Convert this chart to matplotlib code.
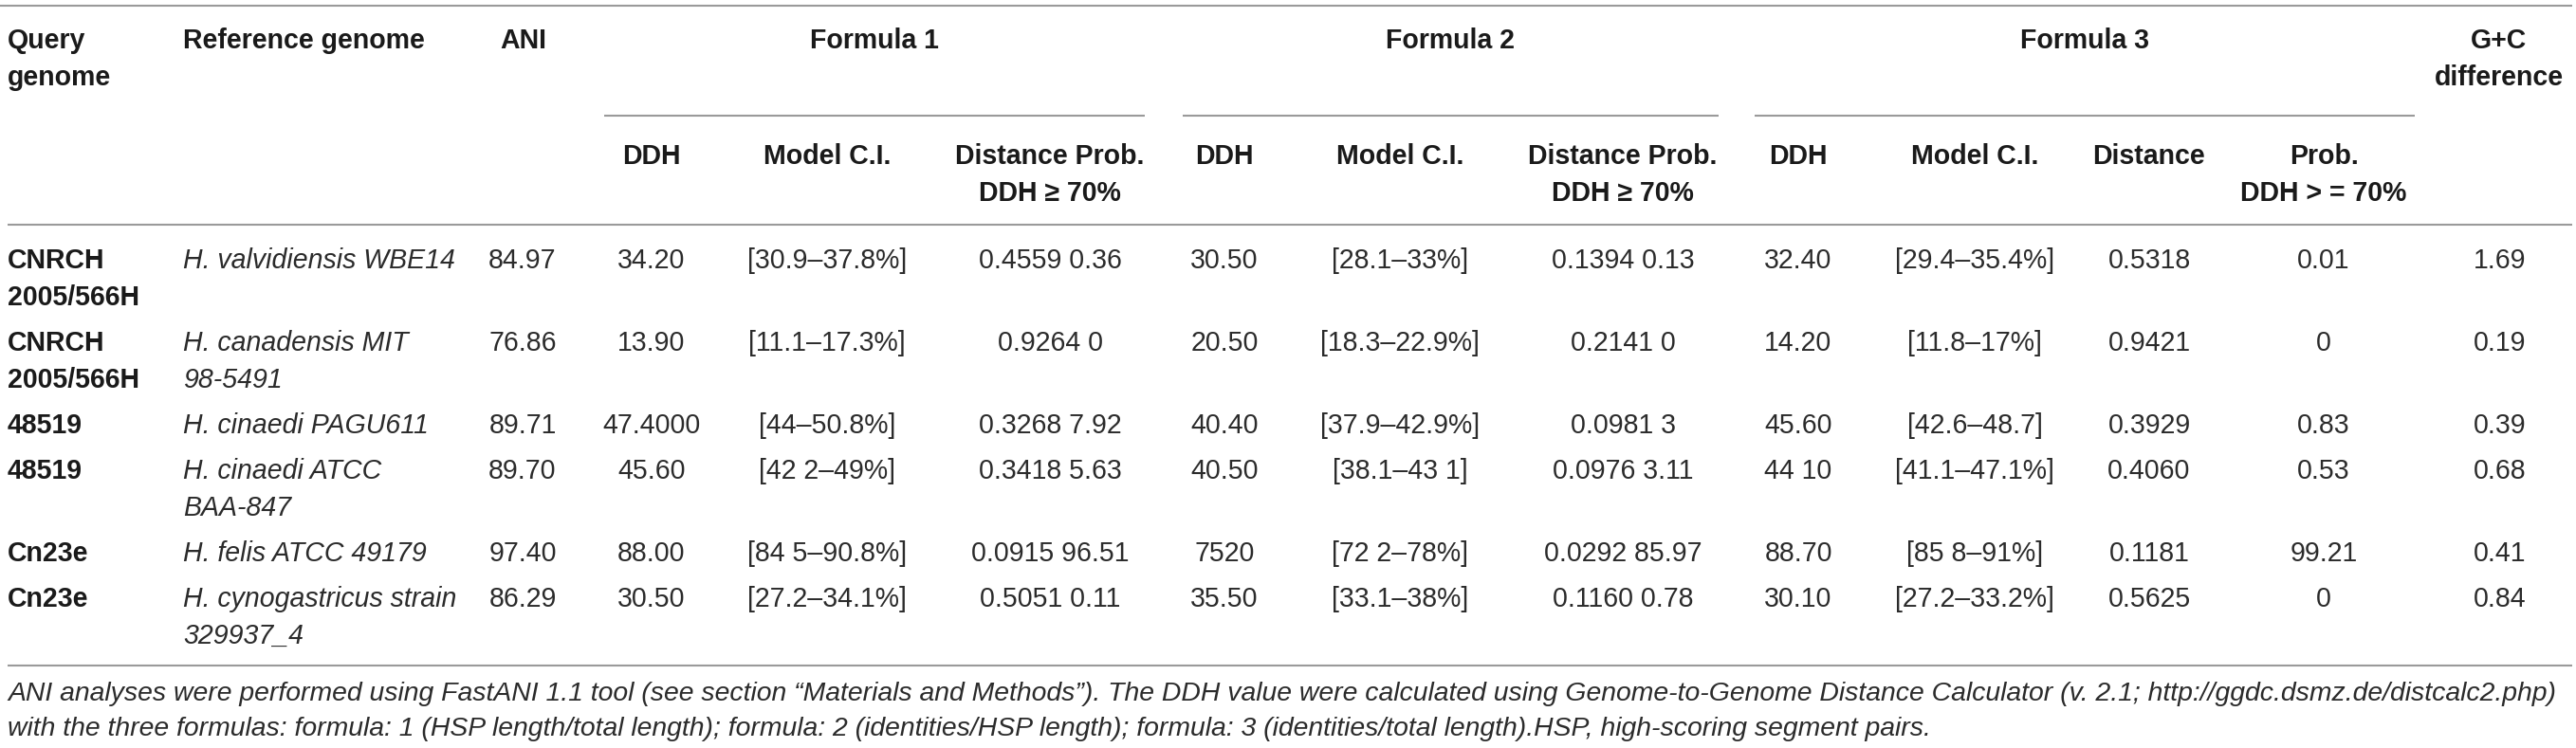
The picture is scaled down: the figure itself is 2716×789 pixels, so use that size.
import matplotlib
matplotlib.use("Agg")
import matplotlib.pyplot as plt

# ---------------- data ----------------
query = ["CNRCH\n2005/566H", "CNRCH\n2005/566H", "48519", "48519", "Cn23e", "Cn23e"]
reference = ["H. valvidiensis WBE14", "H. canadensis MIT\n98-5491", "H. cinaedi PAGU611",
             "H. cinaedi ATCC\nBAA-847", "H. felis ATCC 49179", "H. cynogastricus strain\n329937_4"]
ani = ["84.97", "76.86", "89.71", "89.70", "97.40", "86.29"]
f1_ddh = ["34.20", "13.90", "47.4000", "45.60", "88.00", "30.50"]
f1_ci = ["[30.9–37.8%]", "[11.1–17.3%]", "[44–50.8%]", "[42 2–49%]", "[84 5–90.8%]", "[27.2–34.1%]"]
f1_dp = ["0.4559 0.36", "0.9264 0", "0.3268 7.92", "0.3418 5.63", "0.0915 96.51", "0.5051 0.11"]
f2_ddh = ["30.50", "20.50", "40.40", "40.50", "7520", "35.50"]
f2_ci = ["[28.1–33%]", "[18.3–22.9%]", "[37.9–42.9%]", "[38.1–43 1]", "[72 2–78%]", "[33.1–38%]"]
f2_dp = ["0.1394 0.13", "0.2141 0", "0.0981 3", "0.0976 3.11", "0.0292 85.97", "0.1160 0.78"]
f3_ddh = ["32.40", "14.20", "45.60", "44 10", "88.70", "30.10"]
f3_ci = ["[29.4–35.4%]", "[11.8–17%]", "[42.6–48.7]", "[41.1–47.1%]", "[85 8–91%]", "[27.2–33.2%]"]
f3_dist = ["0.5318", "0.9421", "0.3929", "0.4060", "0.1181", "0.5625"]
f3_prob = ["0.01", "0", "0.83", "0.53", "99.21", "0"]
gc_diff = ["1.69", "0.19", "0.39", "0.68", "0.41", "0.84"]

top_headers = ["Query\ngenome", "Reference genome", "ANI", "Formula 1", "Formula 2", "Formula 3", "G+C\ndifference"]
sub_headers = ["DDH", "Model C.I.", "Distance Prob.\nDDH ≥ 70%",
               "DDH", "Model C.I.", "Distance Prob.\nDDH ≥ 70%",
               "DDH", "Model C.I.", "Distance", "Prob.\nDDH > = 70%"]

footnote = ["ANI analyses were performed using FastANI 1.1 tool (see section “Materials and Methods”). "
            "The DDH value were calculated using Genome-to-Genome Distance Calculator (v. 2.1; http://ggdc.dsmz.de/distcalc2.php)",
            "with the three formulas: formula: 1 (HSP length/total length); formula: 2 (identities/HSP length); "
            "formula: 3 (identities/total length).HSP, high-scoring segment pairs."]

# ---------------- layout ----------------
W, H = 2716, 789
DPI = 100
fig = plt.figure(figsize=(W / DPI, H / DPI), dpi=DPI)
ax = fig.add_axes([0, 0, 1, 1])
ax.set_xlim(0, W)
ax.set_ylim(H, 0)
ax.axis("off")

FONT = "Liberation Sans"
def pt(px):
    return px * 72.0 / DPI

FS = pt(28.5)
FS_NOTE = pt(28.4)
LINE_H = 39
HEAD_C = "#1a1a1a"
DATA_C = "#2b2b2b"
RULE_C = "#9a9a9a"
RULE_W = 1.5

def put(x, y, s, ha="center", weight="normal", style="normal", color=DATA_C, fs=FS):
    for i, line in enumerate(s.split("\n")):
        ax.text(x, y + i * LINE_H, line, ha=ha, va="baseline", fontsize=fs,
                family=FONT, weight=weight, style=style, color=color)

# rules
ax.hlines(6, 0, 2712, color=RULE_C, lw=RULE_W)
ax.hlines(237, 8, 2712, color=RULE_C, lw=RULE_W)
ax.hlines(702, 8, 2712, color=RULE_C, lw=RULE_W)
ax.hlines(122, 637, 1207, color=RULE_C, lw=RULE_W)
ax.hlines(122, 1247, 1812, color=RULE_C, lw=RULE_W)
ax.hlines(122, 1850, 2546, color=RULE_C, lw=RULE_W)

# top headers
top_x = [(8, "left"), (193, "left"), (552, "center"), (922, "center"),
         (1529, "center"), (2198, "center"), (2635, "center")]
for (x, ha), s in zip(top_x, top_headers):
    put(x, 51, s, ha=ha, weight="bold", color=HEAD_C)

# sub headers
sub_x = [687, 872, 1107, 1291, 1476, 1711, 1896, 2082, 2266, 2450]
for x, s in zip(sub_x, sub_headers):
    put(x, 173, s, weight="bold", color=HEAD_C)

# data rows
columns = [
    (8, "left", "bold", "normal", query),
    (193, "left", "normal", "italic", reference),
    (551, "center", "normal", "normal", ani),
    (687, "center", "normal", "normal", f1_ddh),
    (872, "center", "normal", "normal", f1_ci),
    (1107, "center", "normal", "normal", f1_dp),
    (1291, "center", "normal", "normal", f2_ddh),
    (1476, "center", "normal", "normal", f2_ci),
    (1711, "center", "normal", "normal", f2_dp),
    (1896, "center", "normal", "normal", f3_ddh),
    (2082, "center", "normal", "normal", f3_ci),
    (2266, "center", "normal", "normal", f3_dist),
    (2450, "center", "normal", "normal", f3_prob),
    (2636, "center", "normal", "normal", gc_diff),
]

y = 283
for r in range(len(ani)):
    nlines = max(len(col[4][r].split("\n")) for col in columns)
    for x, ha, wt, st, vals in columns:
        put(x, y, vals[r], ha=ha, weight=wt, style=st,
            color=HEAD_C if wt == "bold" else DATA_C)
    y += nlines * LINE_H + 9

# footnote
put(8, 739, footnote[0], ha="left", style="italic", fs=FS_NOTE)
put(8, 776, footnote[1], ha="left", style="italic", fs=FS_NOTE)

fig.savefig("out.png", dpi=DPI, facecolor="white")
